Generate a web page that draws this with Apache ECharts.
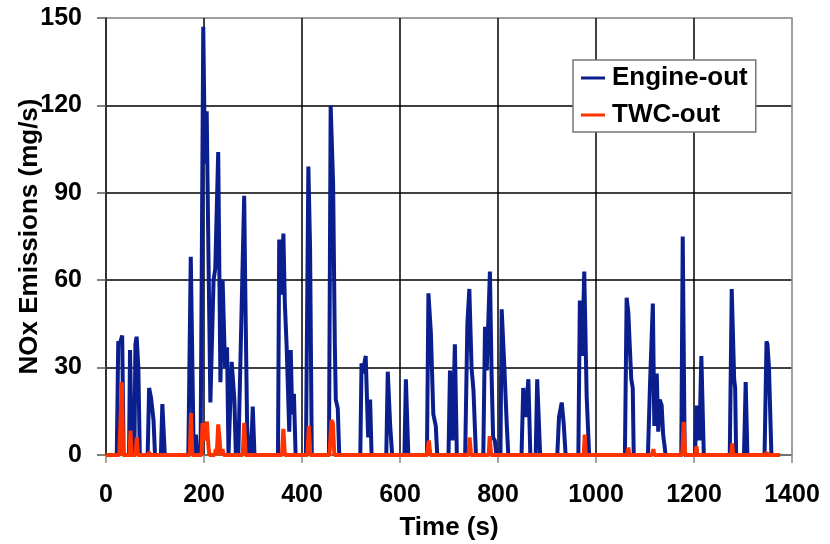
<!DOCTYPE html>
<html>
<head>
<meta charset="utf-8">
<script src="https://cdn.jsdelivr.net/npm/echarts@6/dist/echarts.min.js"></script>
<style>
    body { margin: 0; background: #fff; }
    .main { width: 830px; height: 544px; }
</style>
</head>
<body>
<div class="main" id="main"></div>
<script>
let xTicks = [0, 200, 400, 600, 800, 1000, 1200, 1400]
let yTicks = [0, 30, 60, 90, 120, 150]
let seriesNames = ['Engine-out', 'TWC-out']

let engineTime = [0, 22, 25, 28, 33, 36, 47, 49, 53, 58, 60, 62.5, 66, 69, 85, 88, 92, 97, 100, 112, 115, 120,
    168, 173, 179, 181, 183.5, 186, 193, 198.5, 202, 205.5, 209, 213, 219.5, 223, 229, 233.5, 238, 243, 247, 250,
    252, 256.5, 262, 265, 270, 282, 284, 288, 291, 296, 299.5, 303,
    351, 353.5, 358, 362, 365, 368.5, 374, 377, 380, 383.5, 387, 408, 413, 416.5, 420,
    455, 458.5, 463.5, 467, 469, 473, 476, 519, 521.5, 524, 530, 535, 539, 542, 572, 575, 580, 584,
    609, 612, 617, 655, 658, 663, 668, 673, 676, 699, 702, 707, 712, 716,
    733, 737.5, 741.5, 746, 750, 755, 770, 773.5, 777, 783.5, 787, 790, 793.5, 797,
    805, 807.5, 813, 818, 821, 848, 851.5, 856, 862, 866, 877, 880, 886,
    921, 924.5, 930, 934, 938, 964, 967, 972, 976, 981, 986,
    1059, 1062.5, 1066, 1069, 1072, 1075, 1077,
    1106, 1110, 1116, 1119, 1124, 1127, 1130, 1134, 1137, 1140, 1142, 1174, 1177, 1181,
    1202, 1205.5, 1209, 1211, 1215, 1220, 1273, 1277, 1282, 1284, 1286, 1302, 1305.5, 1309,
    1344, 1348, 1350, 1353, 1358, 1375]
let engineNOx = [0, 0, 39, 38, 41, 0, 0, 36, 0, 0, 38, 40.6, 30, 0, 0, 23, 19.5, 12, 0, 0, 17.5, 0,
    0, 68, 0, 0, 7, 0, 0, 147, 100, 118, 70, 18, 60, 64, 104, 25, 60, 30, 37, 0,
    0, 32, 19, 0, 0, 89, 60, 10, 0, 0, 16.6, 0,
    0, 74, 55, 76, 52, 38, 8, 36, 14, 21, 0, 0, 99, 71, 0,
    0, 120, 93, 38, 19, 16, 0, 0, 31.5, 28, 34, 6, 19, 0, 0, 28.6, 10, 0,
    0, 26, 0, 0, 55.5, 42, 14, 10, 0, 0, 29, 5, 38, 0,
    0, 45, 57, 30, 22, 0, 0, 44, 29, 63, 27, 6, 5, 0,
    0, 50, 30, 10, 0, 0, 23, 13, 26, 0, 0, 26, 0,
    0, 13, 18, 11, 0, 0, 53, 34, 63, 20, 0,
    0, 54, 49, 37, 26, 23, 0,
    0, 23, 52, 10, 28, 8, 19, 17, 7, 3, 0, 0, 75, 0,
    0, 17, 17, 5, 34, 0, 0, 57, 26, 23, 0, 0, 25, 0,
    0, 39, 38, 30, 0, 0]

let twcTime = [0, 27, 30, 32.5, 35, 48, 50, 52, 60, 63, 65, 86, 88, 90,
    171, 173.5, 176, 195, 197, 201, 206, 209, 211, 222, 224, 226, 229, 232, 234, 237, 238, 240,
    279, 282, 285, 359, 362, 365, 411, 414, 417, 456, 460, 463, 466,
    655, 659, 662, 740, 742, 745, 781, 783, 786, 975, 977, 979,
    1064, 1066, 1068, 1114, 1117, 1119, 1176, 1179, 1182, 1203, 1205, 1207,
    1276, 1278, 1280, 1346, 1348, 1350, 1375]
let twcNOx = [0, 0, 14, 25, 0, 0, 8.4, 0, 0, 6, 0, 0, 1, 0,
    0, 14.4, 0, 0, 11, 5, 11.5, 3, 0, 0, 2, 0, 10.5, 5, 0, 0, 2, 0,
    0, 11, 0, 0, 9, 0, 0, 10, 0, 0, 12, 11, 0,
    0, 5, 0, 0, 6, 0, 0, 6.5, 0, 0, 7, 0,
    0, 2.6, 0, 0, 2, 0, 0, 11.4, 0, 0, 3, 0,
    0, 4, 0, 0, 1, 0, 0]

let engineData = engineTime.map((t, i) => [t, engineNOx[i]])
let twcData = twcTime.map((t, i) => [t, twcNOx[i]])

let font = 'Liberation Sans, Arial, sans-serif'
let xGrid = xTicks.map((t, i) => i == xTicks.length - 1 ? '#999' : '#000')
let yGrid = yTicks.map((t, i) => i == yTicks.length - 1 ? '#999' : '#000')

let myChart = echarts.init(document.getElementById('main'))
let option = {
    animation: false,
    backgroundColor: '#fff',
    grid: {
        left: 106,
        right: 38,
        top: 18,
        bottom: 89,
        outerBoundsMode: 'none',
        containLabel: false,
        show: true,
        borderColor: '#999',
        borderWidth: 1.5
    },
    legend: {
        data: seriesNames,
        orient: 'vertical',
        left: 573,
        top: 60,
        padding: [5, 8, 4, 8],
        itemGap: 11,
        itemWidth: 24,
        itemHeight: 3,
        icon: 'rect',
        backgroundColor: '#fff',
        borderColor: '#777',
        borderWidth: 1.5,
        textStyle: { fontFamily: font, fontWeight: 'bold', fontSize: 26, lineHeight: 26, color: '#000', padding: [0, 0, 0, 2] }
    },
    xAxis: {
        type: 'value',
        min: 0,
        max: 1400,
        interval: 200,
        name: 'Time (s)',
        nameLocation: 'middle',
        nameGap: 60,
        nameTextStyle: { fontFamily: font, fontWeight: 'bold', fontSize: 26, color: '#000' },
        axisLine: { lineStyle: { color: '#888', width: 1.5 } },
        axisTick: { length: 8, lineStyle: { color: '#888', width: 1.5 } },
        axisLabel: {
            fontFamily: font, fontWeight: 'bold', fontSize: 25, color: '#000', margin: 28,
            formatter: v => String(v)
        },
        splitLine: { lineStyle: { color: xGrid, width: 1.5 } }
    },
    yAxis: {
        type: 'value',
        min: 0,
        max: 150,
        interval: 30,
        name: 'NOx Emissions (mg/s)',
        nameLocation: 'middle',
        nameGap: 63,
        nameMoveOverlap: false,
        nameTextStyle: { fontFamily: font, fontWeight: 'bold', fontSize: 26, color: '#000' },
        axisLine: { show: true, lineStyle: { color: '#333', width: 1.5 } },
        axisTick: { show: true, length: 9, lineStyle: { color: '#555', width: 1.5 } },
        axisLabel: { fontFamily: font, fontWeight: 'bold', fontSize: 25, color: '#000', margin: 24 },
        splitLine: { lineStyle: { color: yGrid, width: 1.5 } }
    },
    series: [
        {
            name: seriesNames[0],
            type: 'line',
            data: engineData,
            showSymbol: false,
            color: '#0A1E8E',
            lineStyle: { width: 4, color: '#0A1E8E' }
        },
        {
            name: seriesNames[1],
            type: 'line',
            data: twcData,
            showSymbol: false,
            color: '#FF3300',
            lineStyle: { width: 4, color: '#FF3300' }
        }
    ]
}
myChart.setOption(option)
</script>
</body>
</html>
